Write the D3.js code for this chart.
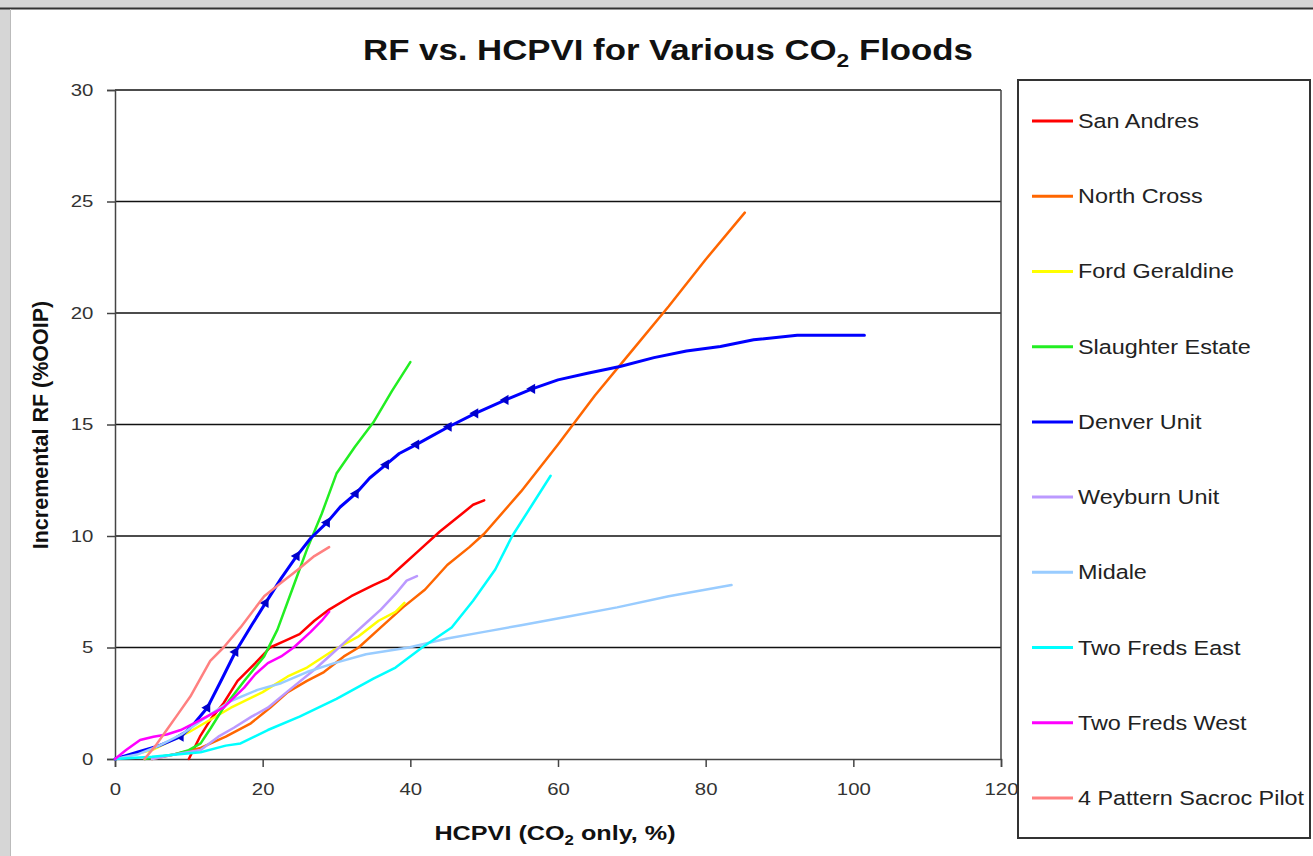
<!DOCTYPE html>
<html><head><meta charset="utf-8">
<script src="https://cdn.jsdelivr.net/npm/d3@7"></script>
<style>
html,body{margin:0;padding:0;background:#d6d6d6;}
svg{display:block;}
</style></head>
<body>
<svg id="chart" width="1313" height="856"></svg>
<script>
// ---- data ----
const xTicks = [0, 20, 40, 60, 80, 100, 120];
const yTicks = [0, 5, 10, 15, 20, 25, 30];
const seriesNames = ["San Andres","North Cross","Ford Geraldine","Slaughter Estate","Denver Unit","Weyburn Unit","Midale","Two Freds East","Two Freds West","4 Pattern Sacroc Pilot"];
const seriesColors = ["#FF0000","#FF6600","#FFFF00","#22EE22","#0000FF","#BB99FF","#99CCFF","#00FFFF","#FF00FF","#FF8080"];

const sanAndres = [[10,0],[11.5,1],[13,1.8],[14.7,2.5],[16.6,3.5],[19,4.3],[21,5],[23,5.3],[25,5.6],[27,6.2],[29,6.7],[32,7.3],[35,7.8],[37,8.1],[39,8.7],[41,9.3],[44,10.2],[47,11],[48.5,11.4],[50,11.6]];
const northCross = [[5,0],[8,0.2],[11.6,0.5],[15,1],[18.4,1.6],[21,2.3],[23.4,3],[26,3.5],[28.3,3.9],[31,4.6],[33,5],[36,5.9],[39,6.8],[42,7.6],[45,8.7],[48,9.5],[50,10.1],[55,12],[60,14.1],[65,16.3],[70,18.3],[75,20.3],[80,22.4],[85.3,24.5]];
const fordGeraldine = [[0,0],[5,0.4],[10,1.2],[15.7,2.3],[20,3],[23.4,3.7],[26,4.1],[29.7,4.9],[33,5.5],[35.7,6.2],[38,6.6],[39.2,7]];
const slaughterEstate = [[4,0],[8,0.2],[10,0.4],[11.6,0.7],[13,1.4],[14.7,2.3],[17.5,3.5],[20.2,4.6],[22,5.8],[24,7.6],[26,9.4],[28,11],[30,12.8],[32.5,14],[35,15.1],[37.5,16.5],[40,17.8]];
const denverUnit = [[0,0],[3,0.3],[6,0.6],[8.9,1.0],[10.5,1.5],[12.5,2.3],[14.5,3.6],[16.3,4.8],[18.5,6],[20.4,7],[22.5,8.1],[24.6,9.1],[26.5,9.9],[28.7,10.6],[30.5,11.3],[32.6,11.9],[34.5,12.6],[36.7,13.2],[38.5,13.7],[40.8,14.1],[43,14.5],[45.2,14.9],[48.8,15.5],[52.9,16.1],[56.5,16.6],[60,17],[64,17.3],[68.4,17.6],[73,18],[77.4,18.3],[82,18.5],[86.5,18.8],[92.4,19],[101.5,19]];
const denverMarkers = [[8.9,1.0],[12.5,2.3],[16.3,4.8],[20.4,7],[24.6,9.1],[28.7,10.6],[32.6,11.9],[36.7,13.2],[40.8,14.1],[45.2,14.9],[48.8,15.5],[52.9,16.1],[56.5,16.6]];
const weyburnUnit = [[5,0],[8,0.2],[11.6,0.4],[14,1],[16.1,1.4],[18.5,1.9],[20.7,2.3],[24,3.2],[27,4],[30,4.9],[32,5.5],[34,6.1],[36,6.7],[38,7.4],[39.5,8.0],[40.9,8.2]];
const midale = [[0,0],[3,0.2],[6,0.6],[9,1.1],[12,1.8],[15.7,2.6],[19.3,3.1],[22.5,3.4],[26,3.9],[29.7,4.3],[34,4.7],[39.8,5],[45,5.4],[50,5.7],[55,6],[61.6,6.4],[68,6.8],[75,7.3],[83.5,7.8]];
const twoFredsEast = [[0,0],[5,0.1],[11.6,0.3],[15,0.6],[17,0.7],[20.7,1.3],[25,1.9],[30,2.7],[35,3.6],[38,4.1],[41.6,5],[45.6,5.9],[48.5,7.1],[51.5,8.5],[53.8,10],[56.5,11.4],[59,12.7]];
const twoFredsWest = [[0,0],[1.5,0.4],[3.4,0.85],[5.2,1.0],[7,1.1],[8.9,1.3],[11.6,1.75],[14.7,2.3],[17.5,3.2],[19,3.8],[20.7,4.3],[22.5,4.6],[24.2,5.0],[26.5,5.7],[28,6.2],[29,6.6]];
const sacrocPilot = [[4,0],[5.5,0.6],[7,1.3],[8.5,2],[10.2,2.8],[12.9,4.4],[14.7,5],[17,5.9],[20.2,7.3],[22.5,7.9],[24.8,8.5],[27,9.1],[29,9.5]];

const seriesData = [sanAndres,northCross,fordGeraldine,slaughterEstate,denverUnit,weyburnUnit,midale,twoFredsEast,twoFredsWest,sacrocPilot];

// ---- drawing ----
const svg = d3.select("#chart");
const FONT = "'Liberation Sans', Arial, sans-serif";

// chart area (white)
svg.append("rect").attr("x",10).attr("y",9).attr("width",1303).attr("height",847).attr("fill","#ffffff");
svg.append("line").attr("x1",0).attr("x2",1313).attr("y1",8.5).attr("y2",8.5).attr("stroke","#333").attr("stroke-width",2);
svg.append("line").attr("x1",10.5).attr("x2",10.5).attr("y1",9).attr("y2",856).attr("stroke","#bbb").attr("stroke-width",1);

const x = d3.scaleLinear().domain([0,120]).range([115,1001]);
const y = d3.scaleLinear().domain([0,30]).range([759,90]);

// gridlines
svg.append("g").selectAll("line").data(yTicks.filter(d=>d>0)).join("line")
  .attr("x1",x(0)).attr("x2",x(120)).attr("y1",d=>y(d)).attr("y2",d=>y(d))
  .attr("stroke","#111").attr("stroke-width",1.6);

// right border of plot area
svg.append("line").attr("x1",x(120)).attr("x2",x(120)).attr("y1",y(30)).attr("y2",y(0))
  .attr("stroke","#444").attr("stroke-width",1.5);

// axes
const xAxis = d3.axisBottom(x).tickValues(xTicks).tickSize(8).tickPadding(16).tickFormat(d3.format("d"));
const yAxis = d3.axisLeft(y).tickValues(yTicks).tickSize(8).tickPadding(10).tickFormat(d3.format("d"));
const gx = svg.append("g").attr("transform",`translate(0,${y(0)})`).call(xAxis);
const gy = svg.append("g").attr("transform",`translate(${x(0)},0)`).call(yAxis);
[gx,gy].forEach(g=>{
  g.select(".domain").attr("stroke","#444").attr("stroke-width",1.5);
  g.selectAll(".tick line").attr("stroke","#444").attr("stroke-width",1.5);
  g.selectAll(".tick text").attr("font-family",FONT).attr("font-size",17).attr("fill","#333")
    .attr("transform","scale(1.2,1)");
});

// lines
const line = d3.line().x(d=>x(d[0])).y(d=>y(d[1])).curve(d3.curveLinear);
seriesData.forEach((data,i)=>{
  svg.append("path").datum(data).attr("d",line).attr("fill","none")
    .attr("stroke",seriesColors[i]).attr("stroke-width", i===4?3:2.5)
    .attr("stroke-linejoin","round").attr("stroke-linecap","round");
  if(i===4){
    svg.append("g").selectAll("path").data(denverMarkers).join("path")
      .attr("d",d3.symbol(d3.symbolTriangle,45))
      .attr("transform",d=>`translate(${x(d[0])},${y(d[1])}) rotate(-90)`)
      .attr("fill","#0000CC");
  }
});

// title
const title = svg.append("text").attr("text-anchor","middle")
  .attr("transform","translate(668,60) scale(1.2,1)")
  .attr("font-family",FONT).attr("font-weight","bold").attr("font-size",29).attr("fill","#111");
title.append("tspan").text("RF vs. HCPVI for Various CO");
title.append("tspan").text("2").attr("font-size",19).attr("dy",7);
title.append("tspan").text(" Floods").attr("dy",-7);

// axis titles
const xt = svg.append("text").attr("text-anchor","middle")
  .attr("transform","translate(555,840) scale(1.2,1)")
  .attr("font-family",FONT).attr("font-weight","bold").attr("font-size",21).attr("fill","#111");
xt.append("tspan").text("HCPVI (CO");
xt.append("tspan").text("2").attr("font-size",14).attr("dy",5);
xt.append("tspan").text(" only, %)").attr("dy",-5);

svg.append("text").attr("transform","translate(48,425) rotate(-90)").attr("text-anchor","middle")
  .attr("font-family",FONT).attr("font-weight","bold").attr("font-size",21.5).attr("fill","#111")
  .text("Incremental RF (%OOIP)");

// legend
const lg = svg.append("g");
lg.append("rect").attr("x",1018).attr("y",80).attr("width",292).attr("height",758)
  .attr("fill","#fff").attr("stroke","#333").attr("stroke-width",2);
const ly = d3.scalePoint().domain(seriesNames).range([121,798]);
seriesNames.forEach((n,i)=>{
  lg.append("line").attr("x1",1032).attr("x2",1073).attr("y1",ly(n)).attr("y2",ly(n))
    .attr("stroke",seriesColors[i]).attr("stroke-width",3);
  lg.append("text").attr("transform",`translate(1078,${ly(n)+7}) scale(1.2,1)`).attr("font-family",FONT)
    .attr("font-size",19.5).attr("fill","#222").text(n);
});
</script>
</body></html>
